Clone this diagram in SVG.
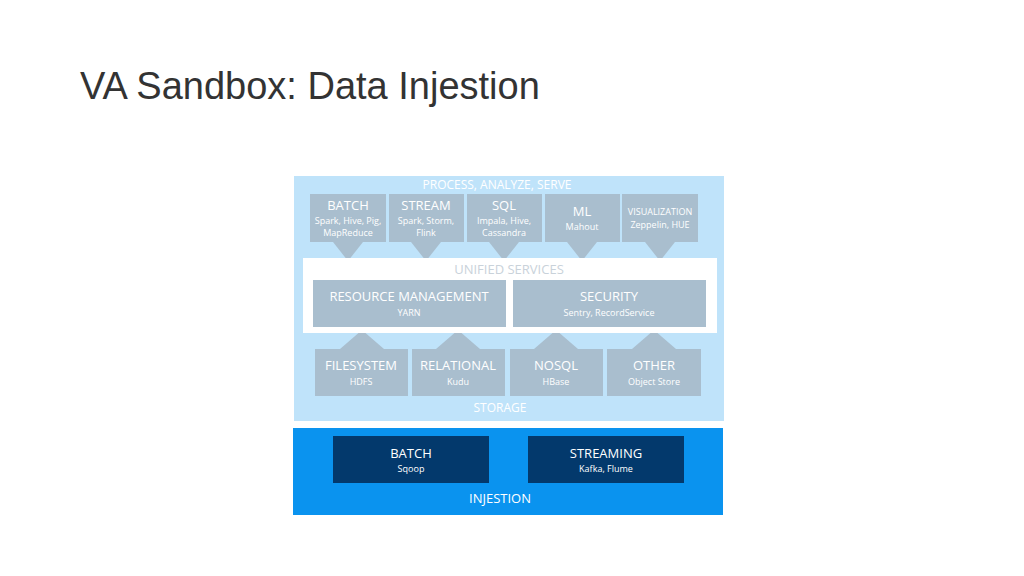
<svg xmlns="http://www.w3.org/2000/svg" width="1024" height="576" viewBox="0 0 1024 576">
<style>
text{font-family:"Open Sans","Noto Sans",sans-serif;fill:#fff;text-anchor:middle}
.g{fill:#a9bece}
.t{font-size:13px}
.s{font-size:9px}
.h{font-size:13px;fill:#c9d2da}
</style>
<rect width="1024" height="576" fill="#fff"/>
<text x="80" y="99" style="font-family:'Liberation Sans','Open Sans',sans-serif;font-size:38px;fill:#333;text-anchor:start;font-weight:300">VA Sandbox: Data Injestion</text>
<rect x="294" y="176" width="430" height="245" fill="#bfe3fa"/>
<text x="497" y="189" style="font-size:12px">PROCESS, ANALYZE, SERVE</text>
<g id="connectors" class="g">
<polygon points="333,242 363,242 348,261"/>
<polygon points="411,242 441,242 426,261"/>
<polygon points="489,242 519,242 504,261"/>
<polygon points="567,242 597,242 582,261"/>
<polygon points="645,242 675,242 660,261"/>
<polygon points="340,349 384,349 362,330"/>
<polygon points="436,349 480,349 458,330"/>
<polygon points="534,349 578,349 556,330"/>
<polygon points="632,349 676,349 654,330"/>
</g>
<g id="batch"><rect class="g" x="310" y="194" width="76" height="48"/><text x="348" y="210" class="t">BATCH</text><text x="348" y="224" class="s">Spark, Hive, Pig,</text><text x="348" y="236" class="s">MapReduce</text></g>
<g id="stream"><rect class="g" x="389" y="194" width="75" height="48"/><text x="426" y="210" class="t">STREAM</text><text x="426" y="224" class="s">Spark, Storm,</text><text x="426" y="236" class="s">Flink</text></g>
<g id="sql"><rect class="g" x="467" y="194" width="75" height="48"/><text x="504" y="210" class="t">SQL</text><text x="504" y="224" class="s">Impala, Hive,</text><text x="504" y="236" class="s">Cassandra</text></g>
<g id="ml"><rect class="g" x="545" y="194" width="75" height="48"/><text x="582" y="216" class="t">ML</text><text x="582" y="230" class="s">Mahout</text></g>
<g id="vis"><rect class="g" x="622" y="194" width="76" height="48"/><text x="660" y="215" class="s">VISUALIZATION</text><text x="660" y="228" class="s">Zeppelin, HUE</text></g>
<rect x="303" y="258" width="414" height="75" fill="#fff"/>
<text x="509" y="274" class="h">UNIFIED SERVICES</text>
<g id="rm"><rect class="g" x="313" y="280" width="193" height="47"/><text x="409" y="301" class="t">RESOURCE MANAGEMENT</text><text x="409" y="316" class="s">YARN</text></g>
<g id="security"><rect class="g" x="513" y="280" width="193" height="47"/><text x="609" y="301" class="t">SECURITY</text><text x="609" y="316" class="s">Sentry, RecordService</text></g>
<g id="fs"><rect class="g" x="315" y="349" width="93" height="47"/><text x="361" y="370" class="t">FILESYSTEM</text><text x="361" y="385" class="s">HDFS</text></g>
<g id="rel"><rect class="g" x="412" y="349" width="93" height="47"/><text x="458" y="370" class="t">RELATIONAL</text><text x="458" y="385" class="s">Kudu</text></g>
<g id="nosql"><rect class="g" x="510" y="349" width="93" height="47"/><text x="556" y="370" class="t">NOSQL</text><text x="556" y="385" class="s">HBase</text></g>
<g id="other"><rect class="g" x="607" y="349" width="94" height="47"/><text x="654" y="370" class="t">OTHER</text><text x="654" y="385" class="s">Object Store</text></g>
<text x="500" y="412" style="font-size:12px">STORAGE</text>
<rect x="293" y="428" width="430" height="87" fill="#0a93ef"/>
<g id="ibatch"><rect x="333" y="436" width="156" height="47" fill="#03396c"/><text x="411" y="458" class="t">BATCH</text><text x="411" y="472" class="s">Sqoop</text></g>
<g id="istream"><rect x="528" y="436" width="156" height="47" fill="#03396c"/><text x="606" y="458" class="t">STREAMING</text><text x="606" y="472" class="s">Kafka, Flume</text></g>
<text x="500" y="503" style="font-size:13px">INJESTION</text>
</svg>
